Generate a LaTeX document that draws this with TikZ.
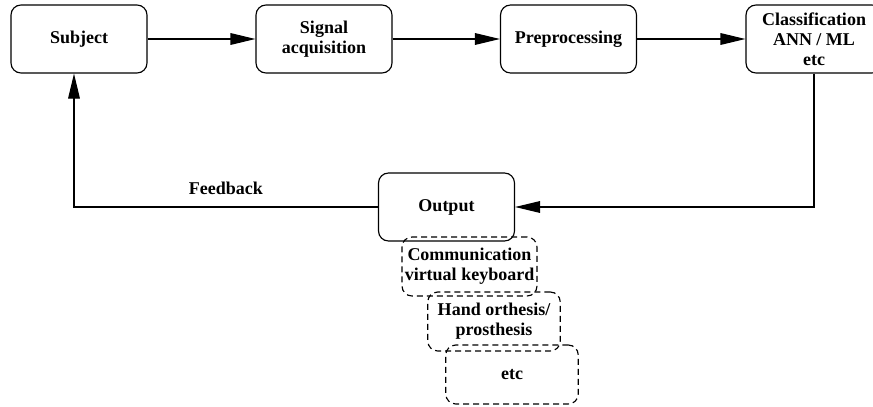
\documentclass[tikz,border=0pt]{standalone}
\usepackage{fontspec}
\setmainfont{Liberation Serif}
\usepackage{xcolor}
\usetikzlibrary{arrows.meta}

\tikzset{
	block/.style={draw, line width=0.7pt, rounded corners=6pt, minimum width=81.6pt, minimum height=40.8pt, align=center, inner sep=1pt, font=\fontsize{10.8}{12}\selectfont\bfseries},
	usebox/.style={block, dashed, dash pattern=on 3.6pt off 2.4pt, minimum width=79.5pt, minimum height=35.4pt},
	flow/.style={line width=0.7pt, -{Triangle[length=15pt,width=7pt]}}
}

\begin{document}
\begin{tikzpicture}[x=0.6pt,y=-0.6pt]
			\useasboundingbox (0,0) rectangle (873,407);
			\node[block] (subject) at (79,39) {Subject};
			\node[block] (signal) at (324,39) {Signal\\acquisition};
			\node[block] (prep) at (568.5,39) {Preprocessing};
			\node[block] (classif) at (814,39) {Classification\\ANN / ML\\etc};
			\node[block] (output) at (446.5,207) {Output};
			\node[usebox, minimum width=81pt] (comm) at (469.5,266.5) {Communication\\virtual keyboard};
			\node[usebox] (hand) at (494,321.5) {Hand orthesis/\\prosthesis};
			\node[usebox] (other) at (512,374.5) {etc};
			\draw[flow] (subject) -- (signal);
			\draw[flow] (signal) -- (prep);
			\draw[flow] (prep) -- (classif);
			\draw[flow] (classif.south) |- (output.east);
			\draw[flow] (output.west) -| node[pos=0.25, above=4pt, font=\fontsize{10.8}{12}\selectfont\bfseries] (fblabel) {Feedback} ([xshift=-3pt]subject.south);
		\end{tikzpicture}
\end{document}
